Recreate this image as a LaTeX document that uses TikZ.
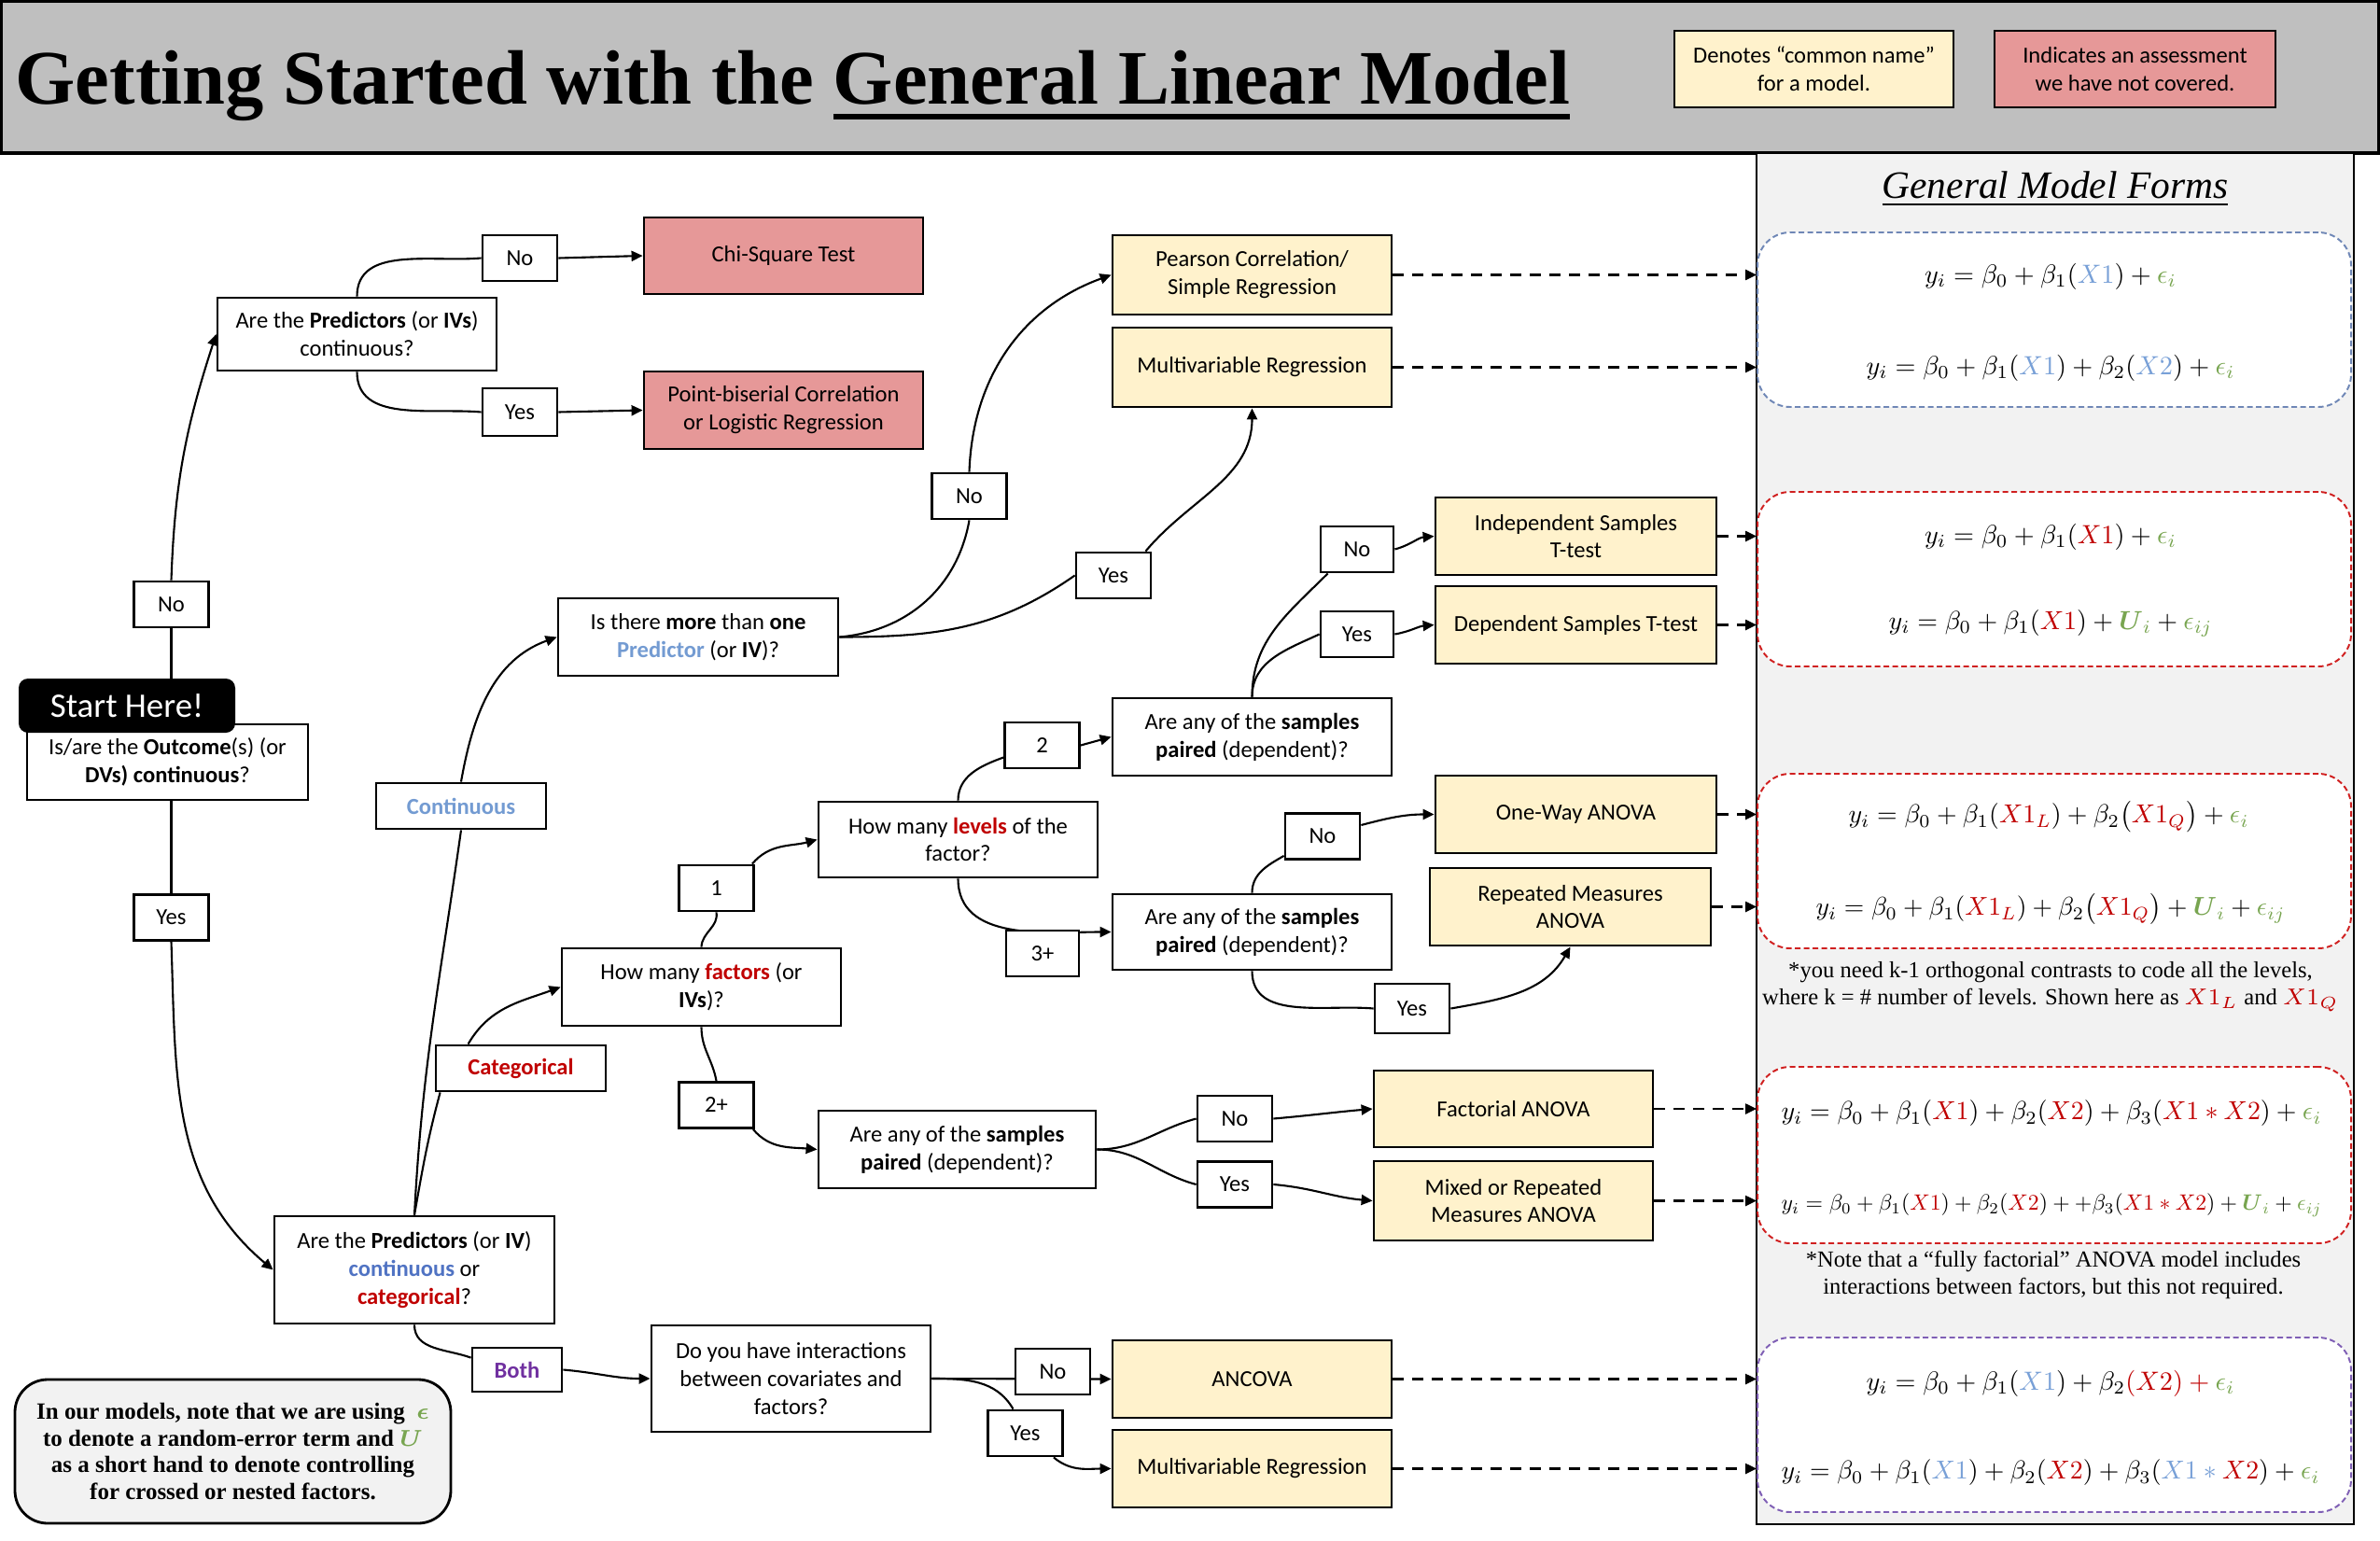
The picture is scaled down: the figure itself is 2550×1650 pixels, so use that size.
\documentclass[tikz,border=0pt]{standalone}
\usepackage{fontspec}
\usepackage{amsmath}
\usepackage{graphicx}
\setmainfont{Carlito}
\newfontfamily\tnr{Liberation Serif}
\usetikzlibrary{arrows.meta,calc}
\definecolor{cHdr}{HTML}{BFBFBF}
\definecolor{cPanel}{HTML}{F2F2F2}
\definecolor{cYel}{HTML}{FFF2CC}
\definecolor{cPink}{HTML}{E69898}
\definecolor{cBlueT}{HTML}{739BD2}
\definecolor{cBlueT2}{HTML}{5073C3}
\definecolor{cRedT}{HTML}{C00000}
\definecolor{cPurT}{HTML}{7030A0}
\definecolor{cEqBlue}{HTML}{78A0D7}
\definecolor{cEqRed}{HTML}{C00000}
\definecolor{cEqGreen}{HTML}{78A550}
\definecolor{cDashBlue}{HTML}{6F87B6}
\definecolor{cDashRed}{HTML}{D02020}
\definecolor{cDashPurp}{HTML}{7F5FB5}
\pgfdeclarelayer{back}
\pgfdeclarelayer{conn}
\pgfsetlayers{back,conn,main}
\newcommand\ulA[1]{\leavevmode\setbox0\hbox{#1}\rlap{\rule[-0.194em]{\wd0}{0.073em}}\box0}
\newcommand\ulB[1]{\leavevmode\setbox0\hbox{#1}\rlap{\rule[-0.157em]{\wd0}{0.048em}}\box0}
\newcommand\EqB[1]{{\color{cEqBlue}#1}}
\newcommand\EqR[1]{{\color{cEqRed}#1}}
\newcommand\EqG[1]{{\color{cEqGreen}#1}}
\newcommand\cf{\fontsize{7}{8.5}\selectfont}
\tikzset{
  box/.style={draw, line width=0.8pt, align=center, inner sep=1pt, font=\cf},
  qbox/.style={box, fill=white},
  ybox/.style={box, fill=cYel},
  rbox/.style={box, fill=cPink},
  lbl/.style={box, fill=white, minimum width=8mm, minimum height=4.9mm, inner sep=0pt},
  startbox/.style={fill=black, text=white, rounded corners=1mm, minimum width=23.2mm, minimum height=5.8mm, font=\fontsize{10.5}{12}\selectfont},
  notebox/.style={draw, line width=0.8pt, fill=cPanel, rounded corners=3.5mm, minimum width=46.7mm, minimum height=15.4mm, align=center, inner sep=0pt, font=\tnr\bfseries\fontsize{7.1}{8.1}\selectfont},
  frm/.style={fill=white, line width=0.55pt, dash pattern=on 0.6mm off 0.35mm, rounded corners=3.5mm, minimum width=63.6mm, minimum height=18.7mm},
  eqn/.style={inner sep=0pt},
  conn/.style={line width=0.6pt},
  arr/.style={conn, -{Triangle[length=1.2mm,width=1.1mm]}},
  darr/.style={line width=0.65pt, dash pattern=on 1.2mm off 0.9mm, -{Triangle[length=1.2mm,width=1.1mm]}},
  sidenote/.style={align=center, inner sep=0pt, font=\tnr\fontsize{7}{8.3}\selectfont}
}
\begin{document}
\begin{tikzpicture}[x=0.1mm,y=-0.1mm]
\useasboundingbox (0,0) rectangle (2550,1650);
\begin{pgfonlayer}{back}
\fill[white] (0,0) rectangle (2550,1650);
\draw[fill=cHdr, line width=1pt] (1.5,1.5) rectangle (2548.5,164);
\draw[fill=cPanel, line width=0.7pt] (1882,164) rectangle (2522,1633);
\end{pgfonlayer}

% header
\node[anchor=base west, inner sep=0pt] (title) at (16,112) {\tnr\bfseries\fontsize{23.5}{28}\selectfont Getting Started with the \ulA{General Linear Model}};
\node[ybox, minimum width=29.9mm, minimum height=8.2mm] (legY) at (1943.5,74) {Denotes “common name”\\for a model.};
\node[rbox, minimum width=30.1mm, minimum height=8.2mm] (legR) at (2287.5,74) {Indicates an assessment\\we have not covered.};

% right panel
\node[anchor=base, inner sep=0pt] (gmf) at (2202,213) {\tnr\itshape\fontsize{11.8}{14}\selectfont\ulB{General Model Forms}};
\node[frm, draw=cDashBlue] (frmA) at (2201,342.5) {};
\node[frm, draw=cDashRed] (frmB) at (2201,620.5) {};
\node[frm, draw=cDashRed] (frmC) at (2201,922.5) {};
\node[frm, draw=cDashRed, minimum height=18.9mm] (frmD) at (2201,1237.5) {};
\node[frm, draw=cDashPurp] (frmE) at (2201,1526.5) {};

\node[eqn] (eq1) at (2197,296) {\resizebox{27.0mm}{!}{$y_i = \beta_0 + \beta_1(\EqB{X1}) + \EqG{\epsilon_i}$}};
\node[eqn] (eq2) at (2197,394) {\resizebox{39.5mm}{!}{$y_i = \beta_0 + \beta_1(\EqB{X1}) + \beta_2(\EqB{X2}) + \EqG{\epsilon_i}$}};
\node[eqn] (eq3) at (2197,575) {\resizebox{27.0mm}{!}{$y_i = \beta_0 + \beta_1(\EqR{X1}) + \EqG{\epsilon_i}$}};
\node[eqn] (eq4) at (2197,668) {\resizebox{34.7mm}{!}{$y_i = \beta_0 + \beta_1(\EqR{X1}) + \EqG{\boldsymbol{U}_i} + \EqG{\epsilon_{ij}}$}};
\node[eqn] (eq5) at (2195,875) {\resizebox{42.9mm}{!}{$y_i = \beta_0 + \beta_1(\EqR{X1_L}) + \beta_2\bigl(\EqR{X1_Q}\bigr) + \EqG{\epsilon_i}$}};
\node[eqn] (eq6) at (2197,974) {\resizebox{50.3mm}{!}{$y_i = \beta_0 + \beta_1(\EqR{X1_L}) + \beta_2\bigl(\EqR{X1_Q}\bigr) + \EqG{\boldsymbol{U}_i} + \EqG{\epsilon_{ij}}$}};
\node[sidenote] (note1) at (2197,1057) {*you need k-1 orthogonal contrasts to code all the levels,\\where k = \# number of levels. Shown here as $\EqR{X1_L}$ and $\EqR{X1_Q}$};
\node[eqn] (eq7) at (2198,1193) {\resizebox{57.9mm}{!}{$y_i = \beta_0 + \beta_1(\EqR{X1}) + \beta_2(\EqR{X2}) + \beta_3(\EqR{X1 \ast X2}) + \EqG{\epsilon_i}$}};
\node[eqn] (eq8) at (2198,1291) {\resizebox{57.9mm}{!}{$y_i = \beta_0 + \beta_1(\EqR{X1}) + \beta_2(\EqR{X2}) + +\beta_3(\EqR{X1 \ast X2}) + \EqG{\boldsymbol{U}_i} + \EqG{\epsilon_{ij}}$}};
\node[sidenote] (note2) at (2200,1366) {*Note that a “fully factorial” ANOVA model includes\\interactions between factors, but this not required.};
\node[eqn] (eq9) at (2197,1482) {\resizebox{39.5mm}{!}{$y_i = \beta_0 + \beta_1(\EqB{X1}) + \beta_2\EqR{(X2)} \mathbin{\EqR{+}} \EqG{\epsilon_i}$}};
\node[eqn] (eq10) at (2197,1578) {\resizebox{57.7mm}{!}{$y_i = \beta_0 + \beta_1(\EqB{X1}) + \beta_2(\EqR{X2}) + \beta_3(\EqB{X1} \mathbin{\EqB{\ast}} \EqR{X2}) + \EqG{\epsilon_i}$}};

% flowchart
\node[qbox, minimum width=30.1mm, minimum height=8.1mm] (outcome) at (179.5,816.5) {Is/are the \textbf{Outcome}(s) (or\\\textbf{DVs) continuous}?};
\node[startbox] (start) at (136,756) {Start Here!};
\node[lbl] (no1) at (183.5,647.5) {No};
\node[lbl] (yes1) at (183.5,983) {Yes};
\node[qbox, minimum width=29.9mm, minimum height=7.8mm] (predC) at (382.5,358) {Are the \textbf{Predictors} (or \textbf{IVs})\\continuous?};
\node[lbl] (no2) at (557,276.5) {No};
\node[lbl, minimum height=5.1mm] (yes2) at (557,441.5) {Yes};
\node[rbox, minimum width=29.9mm, minimum height=8.2mm] (chi) at (839.5,274) {Chi-Square Test};
\node[rbox, minimum width=29.9mm, minimum height=8.3mm] (pb) at (839.5,439.5) {Point-biserial Correlation\\or Logistic Regression};
\node[ybox, minimum width=29.9mm, minimum height=8.5mm] (pearson) at (1341.5,294.5) {Pearson Correlation/\\Simple Regression};
\node[ybox, minimum width=29.9mm, minimum height=8.5mm] (multi1) at (1341.5,393.5) {Multivariable Regression};
\node[lbl] (no3) at (1038.5,531.5) {No};
\node[lbl] (yes3) at (1193,616.5) {Yes};
\node[qbox, minimum width=30mm, minimum height=8.3mm] (more) at (748,682.5) {Is there \textbf{more} than \textbf{one}\\\textcolor{cBlueT}{\textbf{Predictor}} (or \textbf{IV})?};
\node[lbl, minimum width=18.2mm, font=\cf\bfseries, text=cBlueT] (cont) at (494,863.5) {Continuous};
\node[ybox, minimum width=30.1mm, minimum height=8.3mm] (indep) at (1688.5,574.5) {Independent Samples\\T-test};
\node[ybox, minimum width=30.1mm, minimum height=8.3mm] (dep) at (1688.5,669.5) {Dependent Samples T-test};
\node[lbl, minimum width=7.8mm] (no4) at (1454,588.5) {No};
\node[lbl, minimum width=7.8mm] (yes4) at (1454,679.5) {Yes};
\node[qbox, minimum width=29.9mm, minimum height=8.3mm] (pairedA) at (1341.5,789.5) {Are any of the \textbf{samples}\\\textbf{paired} (dependent)?};
\node[lbl] (two) at (1116.5,798.5) {2};
\node[qbox, minimum width=29.9mm, minimum height=8.1mm] (levels) at (1026.5,899.5) {How many \textcolor{cRedT}{\textbf{levels}} of the\\factor?};
\node[lbl] (one) at (767.5,951.5) {1};
\node[lbl, minimum width=7.8mm] (three) at (1117,1021.5) {3+};
\node[qbox, minimum width=29.9mm, minimum height=8.1mm] (pairedB) at (1341.5,998.5) {Are any of the \textbf{samples}\\\textbf{paired} (dependent)?};
\node[lbl] (no5) at (1417,896) {No};
\node[ybox, minimum width=30.1mm, minimum height=8.3mm] (oneway) at (1688.5,872.5) {One-Way ANOVA};
\node[ybox, minimum width=30.1mm, minimum height=8.3mm] (repeated) at (1682.5,971.5) {Repeated Measures\\ANOVA};
\node[lbl, minimum height=5.3mm] (yes6) at (1513,1080.5) {Yes};
\node[qbox, minimum width=29.9mm, minimum height=8.3mm] (factors) at (751.5,1057.5) {How many \textcolor{cRedT}{\textbf{factors}} (or\\\textbf{IVs})?};
\node[lbl, minimum width=18.2mm, font=\cf\bfseries, text=cRedT] (cat) at (558,1144.5) {Categorical};
\node[lbl] (twoplus) at (767.5,1184) {2+};
\node[qbox, minimum width=29.7mm, minimum height=8.3mm] (pairedC) at (1025.5,1231.5) {Are any of the \textbf{samples}\\\textbf{paired} (dependent)?};
\node[lbl] (no6) at (1323,1198.5) {No};
\node[lbl] (yes7) at (1323,1269) {Yes};
\node[ybox, minimum width=29.9mm, minimum height=8.2mm] (factorial) at (1621.5,1188) {Factorial ANOVA};
\node[ybox, minimum width=29.9mm, minimum height=8.5mm] (mixed) at (1621.5,1286.5) {Mixed or Repeated\\Measures ANOVA};
\node[qbox, minimum width=30mm, minimum height=11.5mm] (predCC) at (444,1360.5) {Are the \textbf{Predictors} (or \textbf{IV})\\\textcolor{cBlueT2}{\textbf{continuous}} or\\\textcolor{cRedT}{\textbf{categorical}}?};
\node[lbl, minimum width=9.6mm, minimum height=4.7mm, font=\cf\bfseries, text=cPurT] (both) at (554,1467.5) {Both};
\node[qbox, minimum width=29.9mm, minimum height=11.4mm] (inter) at (847.5,1477) {Do you have interactions\\between covariates and\\factors?};
\node[lbl] (no7) at (1128,1469.5) {No};
\node[lbl] (yes8) at (1098.5,1535.5) {Yes};
\node[ybox, minimum width=29.9mm, minimum height=8.3mm] (ancova) at (1341.5,1477.5) {ANCOVA};
\node[ybox, minimum width=29.9mm, minimum height=8.3mm] (multi2) at (1341.5,1573.5) {Multivariable Regression};
\node[notebox] (note) at (249.5,1555) {In our models, note that we are using\ \ $\EqG{\boldsymbol{\epsilon}}$\\to denote a random-error term and $\EqG{\boldsymbol{U}}$\\as a short hand to denote controlling\\for crossed or nested factors.};

% connectors
\begin{pgfonlayer}{conn}
\draw[conn] (no1.south |- outcome.north) -- (no1.south);
\draw[arr] (no1.north) to[out=88,in=252] (predC.west);
\draw[conn] (yes1.north |- outcome.south) -- (yes1.north);
\draw[arr] (yes1.south) to[out=-88,in=140] (predCC.west);
\draw[conn] (predC.north) to[out=90,in=185] (no2.west);
\draw[arr] (no2.east) -- (chi.west);
\draw[conn] (predC.south) to[out=-90,in=175] (yes2.west);
\draw[arr] (yes2.east) -- (pb.west);
\draw[conn] (predCC.north) to[out=87,in=262] (cont.south);
\draw[arr] (cont.north) to[out=80,in=200] (more.west);
\draw[conn] (predCC.north) to[out=80,in=255] ($(cat.south west)+(6,0)$);
\draw[arr] ($(cat.north west)+(36,0)$) to[out=60,in=200] (factors.west);
\draw[conn] (more.east) to[out=5,in=-100] (no3.south);
\draw[arr] (no3.north) to[out=88,in=200] (pearson.west);
\draw[conn] (more.east) to[out=0,in=215] (yes3.west);
\draw[arr] ($(yes3.north east)+(-7,0)$) to[out=50,in=-90] (multi1.south);
\draw[conn] (pairedA.north) to[out=90,in=225] ($(no4.south west)+(9,0)$);
\draw[arr] (no4.east) to[out=15,in=185] (indep.west);
\draw[conn] (pairedA.north) to[out=90,in=205] (yes4.west);
\draw[arr] (yes4.east) to[out=10,in=185] (dep.west);
\draw[conn] (levels.north) to[out=90,in=200] ($(two.west)+(0,13)$);
\draw[arr] (two.east) -- (pairedA.west);
\draw[arr] (levels.south) to[out=-90,in=180] (pairedB.west);
\draw[conn] (factors.north) to[out=88,in=-80] (one.south);
\draw[arr] ($(one.north east)+(-3,0)$) to[out=50,in=195] (levels.west);
\draw[conn] (factors.south) to[out=-90,in=100] (twoplus.north);
\draw[arr] ($(twoplus.south east)+(-2,0)$) to[out=-50,in=175] (pairedC.west);
\draw[conn] (pairedB.north) to[out=90,in=210] ($(no5.south west)+(0,-5)$);
\draw[arr] ($(no5.east)+(0,-12)$) to[out=15,in=180] (oneway.west);
\draw[conn] (pairedB.south) to[out=-90,in=175] (yes6.west);
\draw[arr] (yes6.east) to[out=10,in=240] (repeated.south);
\draw[conn] (pairedC.east) to[out=0,in=195] (no6.west);
\draw[conn] (pairedC.east) to[out=0,in=165] (yes7.west);
\draw[arr] (no6.east) to[out=5,in=185] (factorial.west);
\draw[arr] (yes7.east) to[out=-5,in=175] (mixed.west);
\draw[conn] (predCC.south) to[out=-90,in=160] ($(both.north west)+(0,12)$);
\draw[arr] (both.east) to[out=-5,in=180] (inter.west);
\draw[arr] (inter.east) -- (ancova.west);
\draw[conn] (inter.east) to[out=0,in=120] ($(yes8.north)+(-13,0)$);
\draw[arr] ($(yes8.south east)+(-11,0)$) to[out=-40,in=180] (multi2.west);
\foreach \n/\b in {pearson/frmA, multi1/frmA, indep/frmB, dep/frmB, oneway/frmC, repeated/frmC, factorial/frmD, mixed/frmD, ancova/frmE, multi2/frmE}
  \draw[darr] (\n.east) -- (\n.east -| \b.west);
\end{pgfonlayer}
\end{tikzpicture}
\end{document}
